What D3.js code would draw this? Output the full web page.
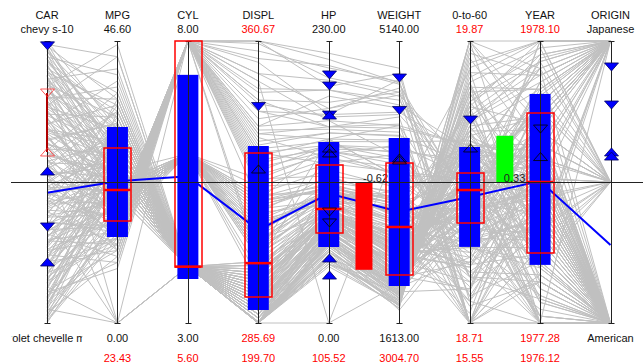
<!DOCTYPE html>
<html>
<head>
<meta charset="utf-8">
<script src="https://cdn.jsdelivr.net/npm/d3@7"></script>
<style>
  body { margin: 0; background: #fff; }
  text { font-family: "Liberation Sans", Arial, sans-serif; font-size: 11px; }
</style>
</head>
<body>
<div id="chart"></div>
<script>
// axes of the parallel plot
const dims = ["CAR", "MPG", "CYL", "DISPL", "HP", "WEIGHT", "0-to-60", "YEAR", "ORIGIN"];
const axisMin = [0, 0, 3, 285.69, 0, 1613, 18.71, 1977.28, 1];
const axisMax = [405, 46.6, 8, 360.67, 230, 5140, 19.87, 1978.10, 3];
const topLabels = ["chevy s-10", "46.60", "8.00", "360.67", "230.00", "5140.00", "19.87", "1978.10", "Japanese"];
const bottomLabels = ["chevrolet chevelle malibu", "0.00", "3.00", "285.69", "0.00", "1613.00", "18.71", "1977.28", "American"];
const meanLabels = ["", "23.43", "5.60", "199.70", "105.52", "3004.70", "15.55", "1976.12", ""];
const redRange = [false, false, false, true, false, false, true, true, false];

// box stats per axis (null = no box)
const sdLow  = [null, 14.21, 3.78, 289.15, 61.99, 2075.8, 19.023, 1977.449, null];
const sdHigh = [null, 32.39, 7.40, 332.75, 147.62, 3926.8, 19.434, 1977.946, null];
const q1     = [null, 16.86, 4, 292.6, 73.4, 2213.3, 19.121, 1977.484, null];
const median = [null, 21.98, 4, 301.6, 93.0, 2813.7, 19.257, 1977.690, null];
const q3     = [null, 28.92, 8, 330.9, 128.9, 3614.1, 19.327, 1977.891, null];

// highlighted profile (blue line)
const profile = [187, 23.43, 5.60, 310.4, 105.52, 3004.70, 19.228, 1977.693, 1.553];

// markers: [axis, value, kind]
const markers = [
  [0, 398, "down"], [0, 330.3, "downRed"], [0, 245.6, "upRed"], [0, 218.3, "up"], [0, 137.9, "down"], [0, 87.6, "up"],
  [3, 343.25, "down"], [3, 326.64, "upHollow"],
  [4, 202.3, "down"], [4, 193.3, "down"], [4, 169.6, "down"], [4, 169.6, "up"],
  [4, 142.7, "upHollow"], [4, 138.7, "upHollow"], [4, 90.5, "downHollow"], [4, 81.6, "downHollow"],
  [4, 53.0, "up"], [4, 39.1, "up"],
  [5, 4677, "down"], [5, 4271, "down"], [5, 3677, "upHollow"], [5, 3652, "upHollow"],
  [6, 19.545, "down"], [6, 19.430, "upHollow"],
  [7, 1977.844, "downHollow"], [7, 1977.764, "upHollow"],
  [8, 2.816, "down"], [8, 2.546, "down"], [8, 2.213, "up"], [8, 2.184, "up"]
];
const carSelection = [245.6, 330.3];

// correlation bars between neighbouring axes
const corrPairs = [["HP", "WEIGHT"], ["0-to-60", "YEAR"]];
const corrValues = [-0.62, 0.33];

// cars: [car rank, mpg, cyl, displ, hp, weight, 0-to-60, year, origin]
const cars = [
  [0,18,8,331,130,3504,19.30,1977.10,1], [4,15,8,350,165,3693,18.90,1977.35,1],
  [8,18,8,318,150,3436,19.20,1977.60,1], [12,16,8,304,150,3433,18.50,1977.50,1],
  [16,17,8,302,140,3449,19.05,1977.20,1], [20,0,4,290,115,2375,19.40,1977.70,2],
  [24,24,4,283,95,2372,19.15,1977.95,3], [28,22,6,298,97,2833,19.60,1977.45,1],
  [32,26,4,280,46,1835,19.90,1977.80,2], [36,25,4,288,87,2672,18.60,1977.65,2],
  [40,10,8,365,215,4615,19.10,1977.30,1], [44,9,8,362,193,4732,18.80,1977.15,1],
  [48,27,4,284,88,2130,19.25,1978.05,3], [52,0,4,282,48,1978,19.50,1977.55,2],
  [56,21,6,300,85,2587,18.95,1977.75,1], [60,14,8,340,175,4464,19.35,1977.40,1],
  [64,19,6,305,100,2634,19.00,1977.85,1], [68,28,4,292,90,2264,19.70,1977.25,3],
  [72,13,8,355,170,4654,18.40,1977.60,1], [76,23,4,296,86,2220,19.28,1977.90,2],
  [80,31,4,283,65,1773,19.12,1978.15,3], [84,20,6,310,110,2962,19.45,1977.52,1],
  [88,12,8,345,180,4499,19.22,1977.05,1], [92,30,4,287,70,2003,18.85,1977.78,3],
  [96,22,4,293,72,2408,19.32,1977.62,1], [100,18,6,312,105,3021,19.58,1977.38,1],
  [104,14,8,336,150,4082,19.08,1977.70,1], [108,26,4,291,80,2164,19.18,1977.98,2],
  [112,33,4,281,53,1795,19.95,1977.48,3], [116,19,6,315,97,2901,18.70,1977.82,1],
  [120,15,8,328,145,3672,19.26,1977.58,1], [124,24,4,294,75,2158,19.38,1978.02,3],
  [128,11,8,358,208,4633,18.30,1977.22,1], [132,21,6,303,110,2945,19.14,1977.66,1],
  [136,29,4,286,67,1950,19.48,1977.88,3], [140,25,4,297,90,2500,19.02,1977.44,2],
  [144,16,8,325,138,3840,19.30,1977.74,1], [148,0,4,284,0,2100,19.66,1977.56,2],
  [152,18,6,320,105,3200,18.98,1977.12,1], [156,32,4,289,58,1990,19.24,1977.92,3],
  [160,13,8,348,190,4340,19.42,1977.34,1], [164,23,6,308,88,2740,19.16,1977.68,1],
  [168,27,4,295,84,2385,18.88,1977.84,2], [172,20,6,316,100,3270,19.34,1977.50,1],
  [176,36,4,280,60,1850,19.76,1978.20,3], [180,17,8,322,130,3730,19.06,1977.64,1],
  [184,24,4,299,78,2300,19.20,1977.96,1], [188,15,8,342,160,4190,18.55,1977.42,1],
  [192,22,6,306,95,2800,19.28,1977.72,1], [196,28,4,290,83,2250,19.12,1977.86,3],
  [200,31,4,285,68,2045,19.52,1977.60,2], [204,19,6,318,110,3100,19.00,1977.32,1],
  [208,14,8,333,155,3960,19.36,1977.18,1], [212,26,4,298,92,2580,19.22,1977.80,3],
  [216,0,8,350,0,3900,18.82,1977.46,1], [220,21,4,301,85,2600,19.30,1977.70,1],
  [224,35,4,282,65,1915,19.62,1978.08,3], [228,17,6,324,120,3350,19.10,1977.54,1],
  [232,30,4,288,75,2120,19.26,1977.90,2], [236,12,8,352,198,4450,18.45,1977.26,1],
  [240,25,4,296,90,2680,19.18,1977.66,1], [244,23,6,311,105,2990,19.40,1977.48,1],
  [248,38,4,281,52,1800,19.82,1978.00,3], [252,18,8,327,140,3600,19.04,1977.36,1],
  [256,27,4,292,70,2150,19.32,1977.76,2], [260,20,6,313,98,3080,18.92,1977.58,1],
  [264,33,4,286,67,1980,19.20,1977.94,3], [268,16,8,338,165,4080,19.44,1977.08,1],
  [272,24,4,300,80,2400,19.14,1977.82,1], [276,29,4,293,88,2330,19.56,1977.52,3],
  [280,22,6,309,115,2910,19.24,1977.70,1], [284,40,4,283,48,1835,20.10,1977.88,3],
  [288,19,6,317,110,3160,18.78,1977.40,1], [292,26,4,297,77,2260,19.34,1978.04,2],
  [296,15,8,331,145,3740,19.08,1977.62,1], [300,34,4,287,63,2050,19.46,1977.74,3],
  [304,21,6,304,92,2700,19.28,1977.30,1], [308,28,4,291,74,2190,19.16,1977.86,3],
  [312,44,4,281,48,2085,19.72,1978.12,2], [316,25,4,294,90,2560,18.96,1977.56,1],
  [320,17,8,335,135,3470,19.30,1977.44,1], [324,37,4,284,68,2020,19.54,1977.98,3],
  [328,23,6,310,105,3015,19.10,1977.64,1], [332,30,4,289,84,2380,19.38,1977.80,1],
  [336,27,4,295,88,2640,19.22,1977.50,2], [340,46,4,280,65,2110,19.88,1978.25,3],
  [344,20,6,319,112,3180,18.65,1977.68,1], [348,32,4,286,72,2135,19.26,1977.92,3],
  [352,24,4,302,85,2500,19.42,1977.58,1], [356,0,4,283,90,2200,19.12,1977.76,1],
  [360,36,4,282,62,1950,19.64,1978.06,3], [364,26,4,298,92,2620,19.02,1977.46,1],
  [368,29,4,290,84,2295,19.32,1977.84,2], [372,22,6,307,110,2925,18.90,1977.62,1],
  [376,34,4,285,70,2050,19.50,1977.96,3], [380,27,4,293,88,2720,19.20,1977.72,1],
  [384,31,4,288,75,2210,19.36,1977.88,3], [388,38,4,282,67,2065,19.78,1978.14,2],
  [392,25,6,303,90,2565,19.16,1977.54,1], [396,28,4,291,84,2370,19.28,1977.82,1],
  [400,44,4,281,52,2130,19.92,1978.02,2], [405,32,4,287,82,2290,19.44,1977.78,1],
  [2,14,8,345,160,4100,18.60,1977.40,1], [6,20,6,296,90,2800,19.30,1977.90,1],
  [10,25,4,284,80,2300,19.70,1977.55,3], [14,11,8,360,200,4500,18.90,1977.62,1],
  [18,28,4,290,70,2050,19.10,1977.70,2], [22,16,6,320,125,3300,19.45,1977.35,1],
  [26,22,4,300,100,2650,18.75,1977.85,1], [30,13,8,338,185,4300,19.25,1977.20,1],
  [34,30,4,287,60,1900,19.55,1978.00,3], [38,19,6,310,105,3000,18.95,1977.48,1],
  [42,24,4,294,85,2500,19.65,1977.75,2], [46,12,8,352,175,4550,19.05,1977.58,1],
  [50,27,4,289,75,2200,18.85,1977.92,3], [54,17,8,326,145,3800,19.35,1977.30,1],
  [58,35,4,283,55,1850,19.15,1977.68,3], [62,21,6,307,110,2950,19.50,1977.45,1],
  [66,15,8,334,155,3950,18.70,1977.80,1], [70,26,4,296,95,2450,19.28,1977.52,2],
  [74,18,6,315,120,3150,19.75,1977.40,1], [78,29,4,291,72,2100,19.08,1978.10,3],
  [82,14,8,342,170,4250,19.40,1977.64,1], [86,23,4,299,88,2600,18.80,1977.74,1],
  [90,33,4,285,65,1950,19.60,1977.86,3], [94,20,6,312,100,3050,19.18,1977.36,1],
  [98,10,8,363,220,4800,18.65,1977.50,1], [102,25,4,293,78,2350,19.32,1977.94,2],
  [106,17,6,322,115,3250,19.02,1977.60,1], [110,31,4,288,68,2000,19.48,1977.72,3],
  [114,22,6,304,95,2750,18.92,1977.42,1], [118,13,8,347,190,4400,19.22,1977.84,1],
  [122,28,4,290,82,2250,19.58,1977.54,3], [126,19,6,318,108,3100,19.12,1977.26,1],
  [130,24,4,297,90,2550,19.38,1978.02,1], [134,16,8,330,150,3900,18.82,1977.66,1],
  [138,37,4,282,58,1820,19.80,1977.78,3], [142,21,4,302,98,2700,19.16,1977.46,2],
  [146,15,8,336,160,4050,19.44,1977.56,1], [150,27,4,292,76,2180,18.96,1977.88,3],
  [154,20,6,314,105,3120,19.30,1977.34,1], [158,30,4,289,70,2080,19.68,1977.70,2],
  [162,18,8,324,140,3650,19.10,1977.82,1], [166,25,4,295,86,2420,19.26,1977.48,1],
  [170,34,4,284,62,1930,19.52,1978.06,3], [174,22,6,305,100,2850,18.88,1977.60,1],
  [178,12,8,356,210,4600,19.20,1977.38,1], [182,26,4,297,84,2480,19.42,1977.76,2],
  [186,19,6,316,112,3080,19.06,1977.52,1], [190,29,4,290,74,2160,19.34,1977.90,3],
  [194,23,4,301,92,2620,18.98,1977.64,1], [198,16,8,332,148,3880,19.46,1977.44,1],
  [202,32,4,286,66,2010,19.14,1977.98,3], [206,21,6,309,102,2880,19.36,1977.58,1],
  [210,27,4,294,80,2320,18.84,1977.80,2], [214,14,8,344,168,4220,19.24,1977.28,1],
  [218,24,4,299,88,2540,19.62,1977.68,1], [222,31,4,288,72,2090,19.18,1977.84,3],
  [226,18,6,319,118,3220,19.40,1977.50,1], [230,26,4,295,85,2440,19.04,1977.92,2],
  [234,20,6,311,104,2980,19.28,1977.66,1], [238,35,4,283,60,1880,19.58,1978.04,3],
  [242,15,8,337,158,4000,18.90,1977.40,1], [246,23,4,300,94,2600,19.32,1977.74,1],
  [250,28,4,291,78,2230,19.12,1977.86,3], [254,19,6,317,110,3140,19.48,1977.56,1],
  [258,25,4,296,86,2460,18.94,1977.70,1], [262,33,4,285,64,1960,19.66,1977.96,3],
  [266,21,6,308,100,2860,19.20,1977.46,1], [270,17,8,329,142,3760,19.38,1977.62,1],
  [274,27,4,293,82,2300,19.08,1977.84,2], [278,30,4,289,76,2140,19.44,1977.72,3],
  [282,22,6,306,106,2900,18.86,1977.54,1], [286,36,4,282,56,1860,19.74,1978.00,3],
  [290,24,4,298,90,2560,19.24,1977.78,1], [294,18,8,323,134,3560,19.02,1977.50,1],
  [298,29,4,290,80,2240,19.52,1977.88,3], [302,26,4,295,88,2500,19.18,1977.64,2],
  [306,20,6,313,108,3060,19.34,1977.42,1], [310,32,4,287,70,2060,18.98,1977.94,3],
  [314,23,4,301,96,2640,19.46,1977.70,1], [318,28,4,292,84,2280,19.22,1977.82,1],
  [322,39,4,282,54,1840,19.60,1978.10,3], [326,19,6,318,114,3120,19.06,1977.58,1],
  [330,25,4,297,90,2520,19.40,1977.76,2], [334,31,4,288,74,2170,19.14,1977.90,3],
  [338,22,6,307,104,2880,18.80,1977.60,1], [342,34,4,285,66,1990,19.56,1978.02,3],
  [346,27,4,294,86,2420,19.30,1977.68,1], [350,42,4,281,50,1900,19.84,1977.86,3],
  [354,24,4,299,92,2580,19.10,1977.52,1], [358,30,4,290,78,2220,19.44,1977.80,2],
  [362,21,6,310,108,2960,19.26,1977.48,1], [366,35,4,284,64,1970,19.68,1977.96,3],
  [370,26,4,296,88,2480,18.94,1977.74,1], [374,32,4,288,72,2120,19.36,1977.92,3],
  [378,28,4,292,82,2340,19.20,1977.66,1], [382,41,4,282,52,1880,19.70,1978.08,2],
  [386,23,6,305,98,2780,19.04,1977.56,1], [390,33,4,286,68,2030,19.50,1977.84,3],
  [394,29,4,291,80,2300,19.24,1977.78,1], [398,37,4,283,58,1930,19.62,1978.04,3],
  [402,27,4,294,86,2440,19.34,1977.70,1]
];

const W = 643, H = 364;
const yTop = 41, yBottom = 323;

const svg = d3.select("#chart").append("svg")
  .attr("width", W)
  .attr("height", H)
  .style("display", "block")
  .style("background", "#fff");

const x = d3.scalePoint().domain(dims).range([47, 610.5]);
const cell = x.step();
const y = dims.map((d, i) => d3.scaleLinear()
  .domain([axisMin[i], axisMax[i]])
  .range([yBottom, yTop])
  .clamp(true));
const corrY = d3.scaleLinear().domain([-1, 1]).range([322, 42]);

const line = d3.line();
const pts = row => row.map((v, i) => [x(dims[i]), y[i](v)]);

// grey polylines
svg.append("g")
  .selectAll("path")
  .data(cars)
  .join("path")
  .attr("d", d => line(pts(d)))
  .attr("fill", "none")
  .attr("stroke", "#c0c0c0")
  .attr("stroke-width", 1);

// profile line
svg.append("path")
  .attr("d", line(pts(profile)))
  .attr("fill", "none")
  .attr("stroke", "#0000ff")
  .attr("stroke-width", 2);

const boxIdx = dims.map((d, i) => i).filter(i => sdLow[i] != null);

// blue boxes
svg.append("g")
  .selectAll("rect")
  .data(boxIdx)
  .join("rect")
  .attr("x", i => x(dims[i]) - 10.5)
  .attr("width", 21)
  .attr("y", i => y[i](sdHigh[i]))
  .attr("height", i => y[i](sdLow[i]) - y[i](sdHigh[i]))
  .attr("fill", "#0000ff");

// correlation bars
const zero = corrY(0);
corrPairs.forEach((p, k) => {
  const cx = (x(p[0]) + x(p[1])) / 2;
  const v = corrValues[k];
  svg.append("rect")
    .attr("x", cx - 8.5)
    .attr("width", 17)
    .attr("y", Math.min(corrY(v), zero + 1))
    .attr("height", Math.abs(corrY(v) - zero))
    .attr("fill", v < 0 ? "#ff0000" : "#00ff00");
  svg.append("text")
    .attr("x", cx - 1)
    .attr("y", zero - 0.5)
    .attr("fill", "#222")
    .text(v.toFixed(2));
});

// axes
const axes = svg.append("g").attr("stroke", "#222").attr("stroke-width", 1);
dims.forEach(d => {
  const ax = Math.round(x(d)) + 0.5;
  axes.append("line").attr("x1", ax).attr("x2", ax).attr("y1", yTop).attr("y2", yBottom);
  axes.append("line").attr("x1", ax - 3).attr("x2", ax + 3).attr("y1", yTop + 0.5).attr("y2", yTop + 0.5);
  axes.append("line").attr("x1", ax - 3).attr("x2", ax + 3).attr("y1", yBottom + 0.5).attr("y2", yBottom + 0.5);
});

// quartile boxes and medians
const red = svg.append("g");
red.selectAll("rect")
  .data(boxIdx)
  .join("rect")
  .attr("x", i => Math.round(x(dims[i])) - 13)
  .attr("width", 27)
  .attr("y", i => Math.round(y[i](q3[i])))
  .attr("height", i => Math.round(y[i](q1[i])) - Math.round(y[i](q3[i])))
  .attr("fill", "none")
  .attr("stroke", "#ff0000")
  .attr("stroke-width", 1.5);
red.selectAll("line")
  .data(boxIdx)
  .join("line")
  .attr("x1", i => x(dims[i]) - 13)
  .attr("x2", i => x(dims[i]) + 13)
  .attr("y1", i => y[i](median[i]))
  .attr("y2", i => y[i](median[i]))
  .attr("stroke", "#ff0000")
  .attr("stroke-width", 2.5);

// zero line
svg.append("line")
  .attr("x1", 11).attr("x2", W)
  .attr("y1", zero + 0.5).attr("y2", zero + 0.5)
  .attr("stroke", "#222");

// selection range on CAR axis
svg.append("line")
  .attr("x1", x("CAR")).attr("x2", x("CAR"))
  .attr("y1", y[0](carSelection[1])).attr("y2", y[0](carSelection[0]))
  .attr("stroke", "#b00000")
  .attr("stroke-width", 2);

// triangle markers
const triDown = "M-7,-4L7,-4L0,4Z";
const triUp = "M-7,4L7,4L0,-4Z";
svg.append("g")
  .selectAll("path")
  .data(markers)
  .join("path")
  .attr("transform", d => `translate(${Math.round(x(dims[d[0]])) + 0.5},${y[d[0]](d[1])})`)
  .attr("d", d => d[2].startsWith("down") ? triDown : triUp)
  .attr("fill", d => d[2] === "down" || d[2] === "up" ? "#0000ff" : "none")
  .attr("stroke", d => d[2].endsWith("Red") ? "#ff3030" : (d[2].endsWith("Hollow") ? "#000" : "#000060"))
  .attr("stroke-width", 0.8);

// labels, clipped to each column cell
const defs = svg.append("defs");
dims.forEach((d, i) => {
  defs.append("clipPath").attr("id", "cell" + i)
    .append("rect")
    .attr("x", x(d) - cell / 2)
    .attr("width", cell)
    .attr("y", 0)
    .attr("height", H);
});

const labels = svg.append("g").attr("text-anchor", "middle");
dims.forEach((d, i) => {
  const g = labels.append("g").attr("clip-path", `url(#cell${i})`);
  const cx = x(d);
  g.append("text").attr("x", cx).attr("y", 18.5).attr("fill", "#111").text(d);
  g.append("text").attr("x", cx).attr("y", 32.5)
    .attr("fill", redRange[i] ? "#ff0000" : "#111").text(topLabels[i]);
  g.append("text").attr("x", cx).attr("y", 341.5)
    .attr("fill", redRange[i] ? "#ff0000" : "#111").text(bottomLabels[i]);
  g.append("text").attr("x", cx).attr("y", 361.5)
    .attr("fill", "#ff0000").text(meanLabels[i]);
});
</script>
</body>
</html>
